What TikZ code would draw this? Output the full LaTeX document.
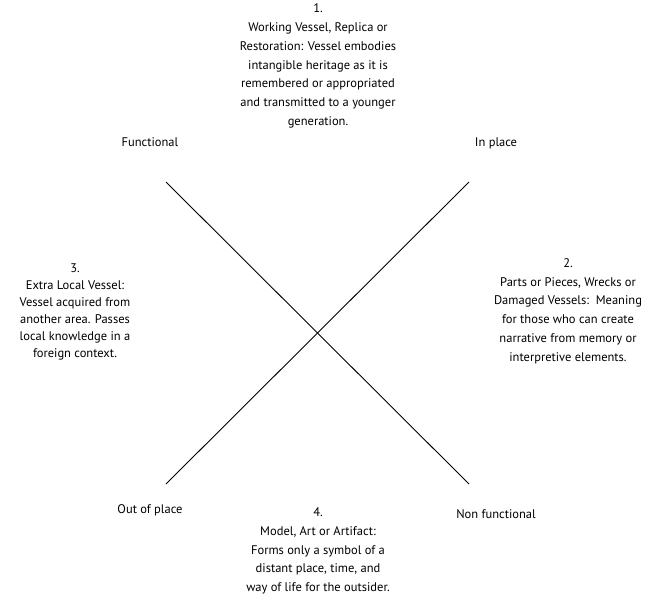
\documentclass[tikz,border=0pt]{standalone}
\usepackage{fontspec}
\setmainfont{PT Sans}
\begin{document}
\begin{tikzpicture}[x=1pt,y=-1pt,
  txt/.style={align=center,font=\fontsize{12.5}{18.8}\selectfont,inner sep=0pt},
  ln/.style={line width=0.9pt}]
\useasboundingbox (0,0) rectangle (669,599);
\coordinate (a) at (166,182);
\coordinate (b) at (469,484);
\coordinate (c) at (469,182);
\coordinate (d) at (166,484);
\draw[ln] (a) -- (b);
\draw[ln] (c) -- (d);
\node[txt] (t1) at (318,66) {1.\\Working Vessel, Replica or\\Restoration: Vessel embodies\\intangible heritage as it is\\remembered or appropriated\\and transmitted to a younger\\generation.};
\node[txt] (fun) at (150,142) {Functional};
\node[txt] (inp) at (496,143) {In place};
\node[txt,font=\fontsize{12.5}{17}\selectfont] (t3) at (75,312) {3.\\Extra Local Vessel:\\Vessel acquired from\\another area. Passes\\local knowledge in a\\foreign context.};
\node[txt] (t2) at (568,311) {2.\\Parts or Pieces, Wrecks or\\Damaged Vessels:\ \ Meaning\\for those who can create\\narrative from memory or\\interpretive elements.};
\node[txt] (oop) at (150,510) {Out of place};
\node[txt] (nf) at (496,514) {Non functional};
\node[txt] (t4) at (318,551) {4.\\Model, Art or Artifact:\\Forms only a symbol of a\\distant place, time, and\\way of life for the outsider.};
\end{tikzpicture}
\end{document}
